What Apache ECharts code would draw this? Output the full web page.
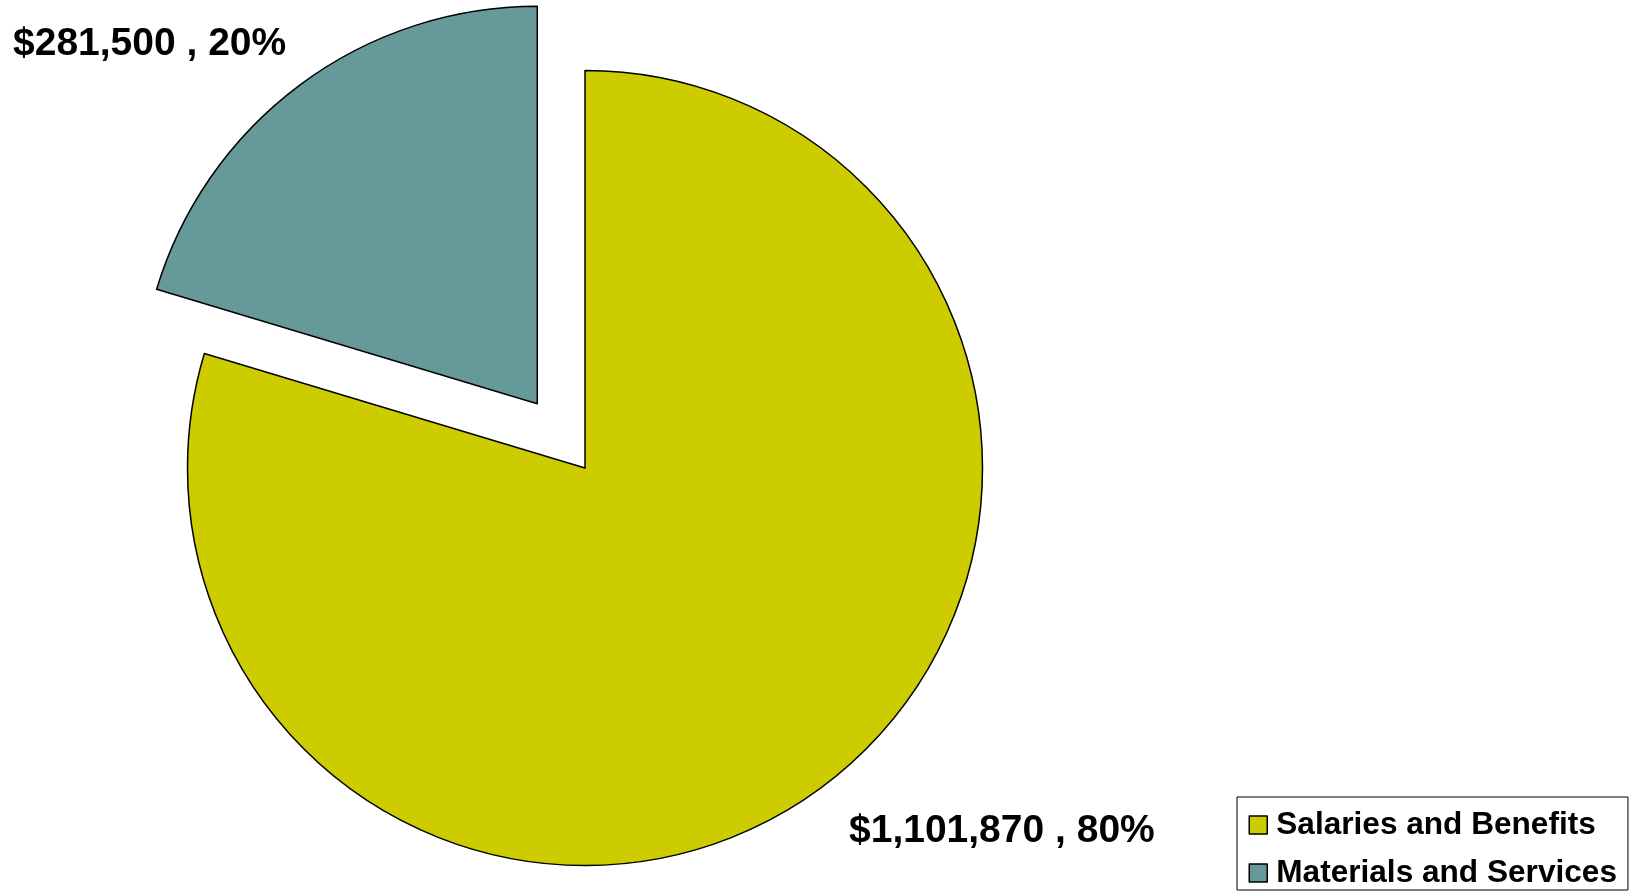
<!DOCTYPE html>
<html>
<head>
<meta charset="utf-8">
<title>Budget by Category</title>
<script src="https://cdn.jsdelivr.net/npm/echarts@6/dist/echarts.min.js"></script>
<style>
  html, body { margin: 0; padding: 0; background: #ffffff; }
  #chart { width: 1633px; height: 892px; }
</style>
</head>
<body>
<div id="chart"></div>
<script>
// Budget categories and amounts (USD)
const categories = ['Salaries and Benefits', 'Materials and Services'];
const amounts = [1101870, 281500];
const sliceColors = ['#CCCC00', '#669999'];
// Index of the slice that is pulled out from the pie
const explodedIndex = 1;

const FONT = '"Liberation Sans", Arial, Helvetica, sans-serif';

// Pie geometry
const CENTER = [585, 468];
const RADIUS = 397.5;
const START_ANGLE = 90;
const EXPLODE_DISTANCE = 80;

// Where each value label sits on the canvas
const labelSpots = [
  { x: 849, y: 831 },
  { x: 13, y: 44 }
];

// Mid angle of the pulled-out slice (slices run clockwise from START_ANGLE)
const total = amounts.reduce((a, b) => a + b, 0);
const before = amounts.slice(0, explodedIndex).reduce((a, b) => a + b, 0);
const midDeg = START_ANGLE - 360 * (before + amounts[explodedIndex] / 2) / total;
const midRad = midDeg * Math.PI / 180;
const explodedCenter = [
  CENTER[0] + Math.cos(midRad) * EXPLODE_DISTANCE,
  CENTER[1] - Math.sin(midRad) * EXPLODE_DISTANCE
];

const hidden = {
  itemStyle: { color: 'rgba(0,0,0,0)', borderWidth: 0 },
  label: { show: false }
};

// Each layer shows only its own slices; the other layer's slices stay invisible
function layerData(showExploded) {
  return categories.map((name, i) => {
    const visible = (i === explodedIndex) === showExploded;
    return visible
      ? { name: name, value: amounts[i], itemStyle: { color: sliceColors[i] } }
      : Object.assign({ name: name, value: amounts[i] }, hidden);
  });
}

const labelOption = {
  show: true,
  position: 'outside',
  fontFamily: FONT,
  fontWeight: 'bold',
  fontSize: 39,
  color: '#000',
  formatter: p => '$' + p.value.toLocaleString('en-US') + ' , ' + Math.round(p.percent) + '%'
};

function pieLayer(center, showExploded) {
  return {
    type: 'pie',
    center: center,
    radius: RADIUS,
    startAngle: START_ANGLE,
    clockwise: true,
    selectedMode: false,
    avoidLabelOverlap: false,
    emphasis: { disabled: true },
    itemStyle: { borderColor: '#000', borderWidth: 1.5 },
    label: labelOption,
    labelLine: { show: false },
    labelLayout: params => ({
      x: labelSpots[params.dataIndex].x,
      y: labelSpots[params.dataIndex].y,
      align: 'left',
      verticalAlign: 'middle'
    }),
    data: layerData(showExploded)
  };
}

const chart = echarts.init(document.getElementById('chart'), null, { renderer: 'canvas' });

chart.setOption({
  animation: false,
  backgroundColor: '#ffffff',
  legend: {
    orient: 'vertical',
    left: 1237,
    top: 797,
    height: 120,
    data: categories.map((name, i) => ({
      name: name,
      itemStyle: { color: sliceColors[i], borderColor: '#000', borderWidth: 1.5 }
    })),
    icon: 'rect',
    itemWidth: 18,
    itemHeight: 18,
    itemGap: 16,
    padding: [12, 11, 1, 11.5],
    borderColor: '#000',
    borderWidth: 1,
    selectedMode: false,
    textStyle: {
      fontFamily: FONT,
      fontWeight: 'bold',
      fontSize: 31.6,
      color: '#000',
      padding: [0, 0, 0, 4]
    }
  },
  series: [
    pieLayer(CENTER, false),
    pieLayer(explodedCenter, true)
  ]
});
</script>
</body>
</html>
